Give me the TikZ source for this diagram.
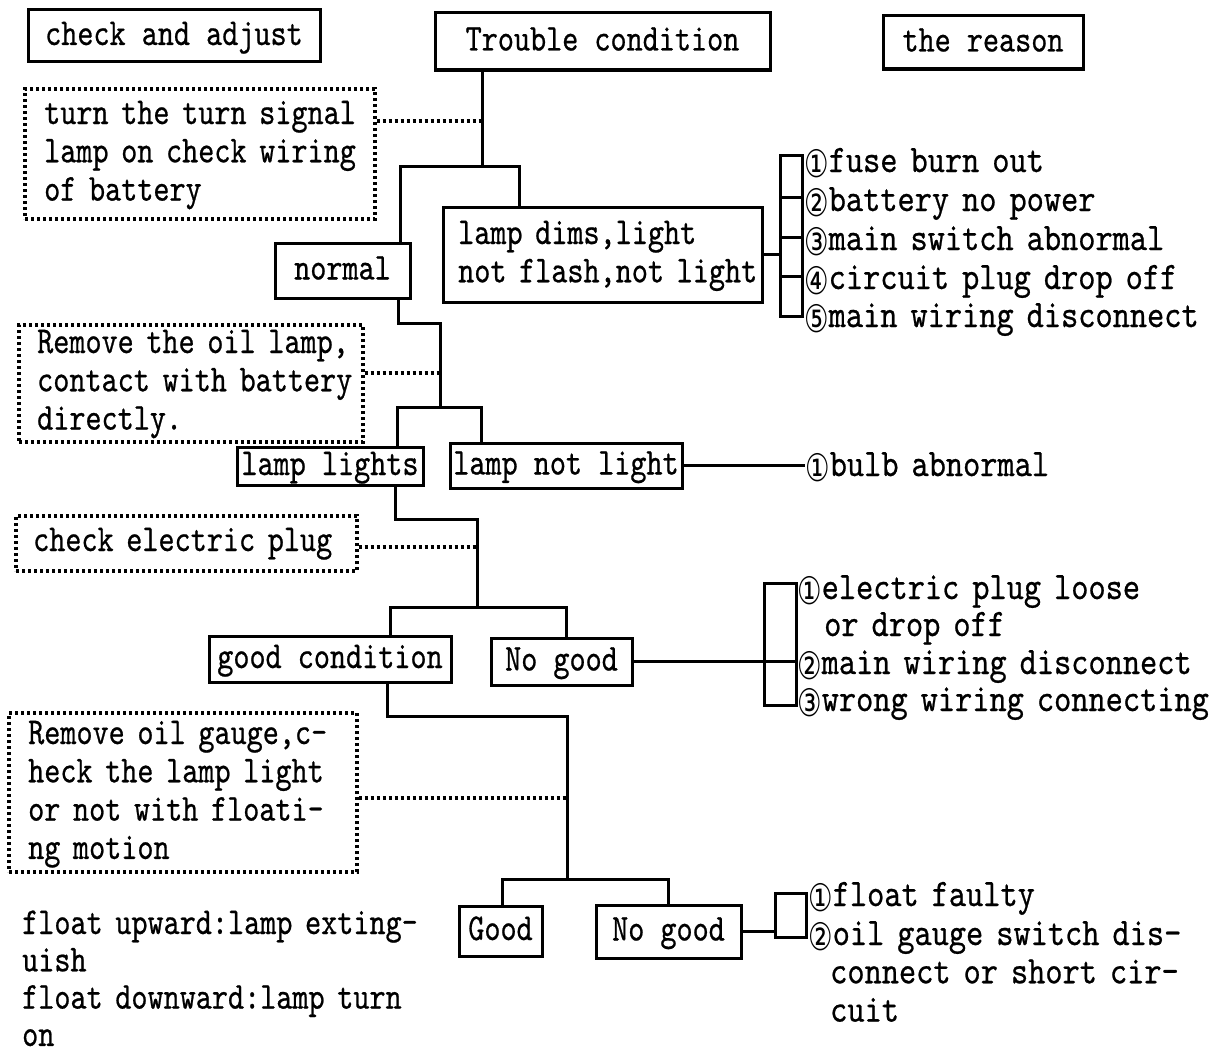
\documentclass[tikz,border=0pt]{standalone}
\usepackage{fontspec}
\setmonofont[FakeStretch=0.807,FakeBold=0.6]{lmmono10-regular.otf}
\newfontfamily\rfont[FakeStretch=0.84,FakeBold=0.6]{lmmono10-regular.otf}
\newfontfamily\circf[FakeStretch=0.72]{DejaVu Sans}
\newcommand\cnum[1]{{\circf\fontsize{38}{38}\selectfont\raisebox{-5pt}{#1}}}
\begin{document}
\begin{tikzpicture}[x=1pt,y=-1pt,
  font=\ttfamily\fontsize{38}{38.3}\selectfont,
  box/.style={draw,line width=3pt,inner sep=0pt,text height=24pt,text depth=6pt},
  dbox/.style={draw,line width=3.2pt,dash pattern=on 3pt off 3pt,inner sep=0pt},
  txt/.style={inner sep=0pt,align=left,text width=440pt,anchor=base west},
  rtxt/.style={txt,font=\rfont\fontsize{39}{38.3}\selectfont},
  conn/.style={line width=3pt},
  dconn/.style={line width=3.2pt,dash pattern=on 3pt off 3pt}]
\fill[white] (0,0) rectangle (1220,1057);
\useasboundingbox (0,0) rectangle (1220,1057);

% headers
\node[box,minimum width=292pt,minimum height=52pt] (adjust) at (174,36) {check and adjust};
\node[box,minimum width=335pt,minimum height=57pt] (trouble) at (602.5,41.5) {Trouble condition};
\node[box,minimum width=200pt,minimum height=53pt] (reason) at (983,42.5) {the reason};

% check-and-adjust boxes (dotted)
\node[dbox,minimum width=350pt,minimum height=130pt] (turnbox) at (200,154) {};
\node[txt] (turntext) at (44,124) {turn the turn signal\\lamp on check wiring\\of battery};
\node[dbox,minimum width=344pt,minimum height=117pt] (lampbox) at (191,383.5) {};
\node[txt] (lamptext) at (37,353) {Remove the oil lamp,\\contact with battery\\directly.};
\node[dbox,minimum width=341pt,minimum height=55pt] (plugbox) at (186.5,543.5) {};
\node[txt] (plugtext) at (33,551) {check electric plug};
\node[dbox,minimum width=348pt,minimum height=159pt] (gaugebox) at (183,792.5) {};
\node[txt] (gaugetext) at (28,744) {Remove oil gauge,c-\\heck the lamp light\\or not with floati-\\ng motion};
\node[txt,font=\ttfamily\fontsize{38}{37.3}\selectfont] (floattext) at (22,934) {float upward:lamp exting-\\uish\\float downward:lamp turn\\on};

% condition boxes
\node[box,minimum width=319pt,minimum height=95pt] (dims) at (602.5,254.5) {};
\node[txt] (dimstext) at (458,244) {lamp dims,light\\not flash,not light};
\node[box,minimum width=135pt,minimum height=55pt] (normal) at (342.5,270.5) {normal};
\node[box,minimum width=186pt,minimum height=38pt] (lights) at (330,466) {lamp lights};
\node[box,minimum width=232pt,minimum height=45pt] (nolight) at (566,465.5) {lamp not light};
\node[box,minimum width=242pt,minimum height=46pt] (goodc) at (330,659) {good condition};
\node[box,minimum width=141pt,minimum height=47pt] (nogood) at (561.5,661.5) {No good};
\node[box,minimum width=83pt,minimum height=50pt] (good) at (500.5,931) {Good};
\node[box,minimum width=145pt,minimum height=53pt] (nogoodb) at (668.5,931.5) {No good};

% reasons
\node[rtxt] (r1a) at (804,172) {\cnum{①}fuse burn out};
\node[rtxt] (r1b) at (804,211) {\cnum{②}battery no power};
\node[rtxt] (r1c) at (804,250) {\cnum{③}main switch abnormal};
\node[rtxt] (r1d) at (804,289) {\cnum{④}circuit plug drop off};
\node[rtxt] (r1e) at (804,327) {\cnum{⑤}main wiring disconnect};
\node[rtxt] (bulb) at (805,476) {\cnum{①}bulb abnormal};
\node[rtxt,font=\rfont\fontsize{39}{37}\selectfont] (r2a) at (797,599) {\cnum{①}electric plug loose\\\hspace*{27pt}or drop off};
\node[rtxt] (r2b) at (797,674) {\cnum{②}main wiring disconnect};
\node[rtxt] (r2c) at (797,711) {\cnum{③}wrong wiring connecting};
\node[rtxt] (r3a) at (808,906) {\cnum{①}float faulty};
\node[rtxt] (r3b) at (808,945) {\cnum{②}oil gauge switch dis-\\\hspace*{22pt}connect or short cir-\\\hspace*{22pt}cuit};

% level 1
\coordinate (j1) at (482,166);
\coordinate (d1) at (482,121);
\coordinate (b1l) at (400,166);
\coordinate (b1r) at (519,166);
\draw[conn] (trouble.south -| j1) -- (j1);
\draw[conn] (normal.north -| b1l) -- (b1l) -- (b1r) -- (dims.north -| b1r);
\draw[dconn] (turnbox.east |- d1) -- (d1);
% bracket 1
\coordinate (br1a) at (780,155);
\coordinate (br1b) at (802,316);
\draw[conn] (br1a) rectangle (br1b);
\foreach \yy in {197,237,276} \draw[conn] (780,\yy) -- (802,\yy);
\draw[conn] (dims.east) -- (dims.east -| br1a);

% level 2
\coordinate (n1) at (398,323);
\coordinate (j2) at (440,407);
\coordinate (d2) at (440,373);
\coordinate (b2l) at (397,407);
\coordinate (b2r) at (481,407);
\draw[conn] (normal.south -| n1) -- (n1) -| (j2);
\draw[conn] (lights.north -| b2l) -- (b2l) -- (b2r) -- (nolight.north -| b2r);
\draw[dconn] (lampbox.east |- d2) -- (d2);
\draw[conn] (nolight.east) -- (nolight.east -| bulb.west);

% level 3
\coordinate (n3) at (395,519);
\coordinate (j3) at (477,607);
\coordinate (d3) at (477,547);
\coordinate (b3l) at (390,607);
\coordinate (b3r) at (566,607);
\draw[conn] (lights.south -| n3) -- (n3) -| (j3);
\draw[conn] (goodc.north -| b3l) -- (b3l) -- (b3r) -- (nogood.north -| b3r);
\draw[dconn] (plugbox.east |- d3) -- (d3);
% bracket 2
\coordinate (br2a) at (764,583);
\coordinate (br2b) at (796,705);
\coordinate (br2m) at (796,662);
\draw[conn] (br2a) rectangle (br2b);
\draw[conn] (nogood.east) -- (nogood.east -| br2m);

% level 4
\coordinate (n5) at (387,716);
\coordinate (j4) at (567,879);
\coordinate (d4) at (567,798);
\coordinate (b4l) at (502,879);
\coordinate (b4r) at (668,879);
\draw[conn] (goodc.south -| n5) -- (n5) -| (j4);
\draw[conn] (good.north -| b4l) -- (b4l) -- (b4r) -- (nogoodb.north -| b4r);
\draw[dconn] (gaugebox.east |- d4) -- (d4);
% bracket 3
\coordinate (br3a) at (775,893);
\coordinate (br3b) at (806,937);
\draw[conn] (br3a) rectangle (br3b);
\draw[conn] (nogoodb.east) -- (nogoodb.east -| br3a);
\end{tikzpicture}
\end{document}
